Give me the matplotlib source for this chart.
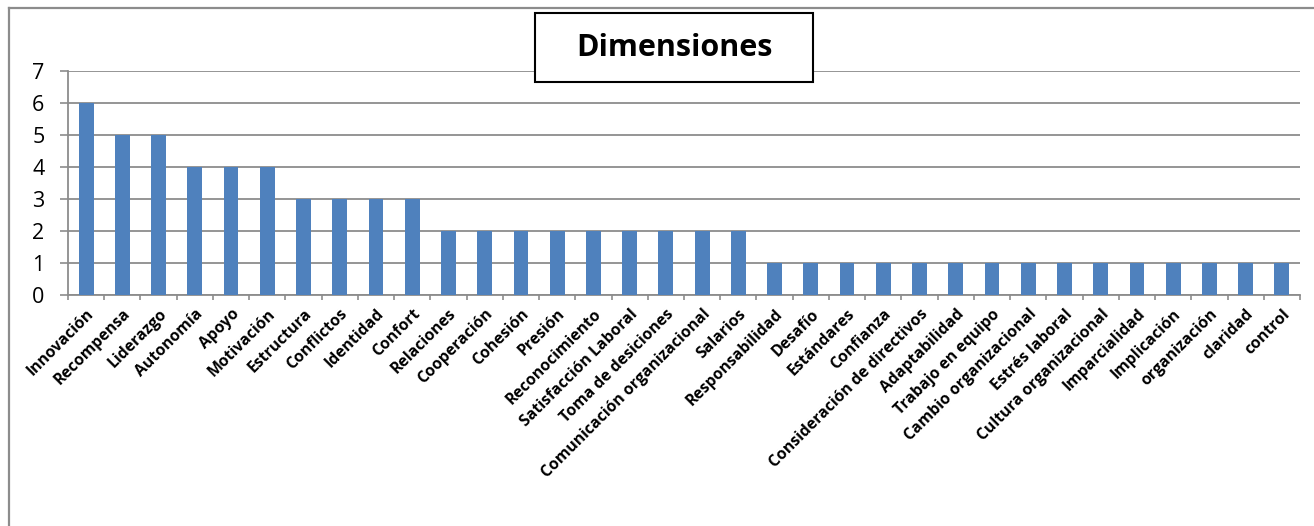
import matplotlib
matplotlib.use("Agg")
import matplotlib.pyplot as plt
from matplotlib.patches import Rectangle
import numpy as np

# Datos del gráfico "Dimensiones"
categorias = [
    "Innovación", "Recompensa", "Liderazgo", "Autonomía", "Apoyo", "Motivación",
    "Estructura", "Conflictos", "Identidad", "Confort", "Relaciones", "Cooperación",
    "Cohesión", "Presión", "Reconocimiento", "Satisfacción Laboral",
    "Toma de desiciones", "Comunicación organizacional", "Salarios",
    "Responsabilidad", "Desafío", "Estándares", "Confianza",
    "Consideración de directivos", "Adaptabilidad", "Trabajo en equipo",
    "Cambio organizacional", "Estrés laboral", "Cultura organizacional",
    "Imparcialidad", "Implicación", "organización", "claridad", "control",
]
valores = [6, 5, 5, 4, 4, 4, 3, 3, 3, 3, 2, 2, 2, 2, 2, 2, 2, 2, 2,
           1, 1, 1, 1, 1, 1, 1, 1, 1, 1, 1, 1, 1, 1, 1]
y_ticks = [0, 1, 2, 3, 4, 5, 6, 7]
titulo = "Dimensiones"

BAR_COLOR = "#4F81BD"
GRID_COLOR = "#8C8C8C"

plt.rcParams["font.family"] = ["Open Sans", "DejaVu Sans"]

W, H = 1314, 526
fig = plt.figure(figsize=(W / 100, H / 100), dpi=100)

# marco exterior del gráfico (solo lados izquierdo y superior visibles)
fig.add_artist(plt.Line2D([8.5 / W, 8.5 / W], [0, 1 - 8 / H], color="#8C8C8C", lw=1.6))
fig.add_artist(plt.Line2D([8.5 / W, 1], [1 - 8 / H, 1 - 8 / H], color="#8C8C8C", lw=1.6))

x0, x1 = 68, 1300
y_top, y_bot = 71, 295
ax = fig.add_axes([x0 / W, 1 - y_bot / H, (x1 - x0) / W, (y_bot - y_top) / H])

x = np.arange(len(categorias))
ax.bar(x, valores, width=0.41, color=BAR_COLOR, zorder=3)

ax.set_xlim(-0.5, len(categorias) - 0.5)
ax.set_ylim(0, 7)

ax.set_yticks(y_ticks)
ax.set_yticklabels([str(v) for v in y_ticks], fontsize=15.5)
ax.yaxis.grid(True, color=GRID_COLOR, lw=1.3, zorder=0)
ax.tick_params(axis="y", length=6, width=1.2, color=GRID_COLOR, pad=11)

ax.set_xticks(x)
ax.set_xticklabels(categorias, rotation=45, ha="right", rotation_mode="anchor",
                   fontsize=11.3, fontweight="bold")
ax.tick_params(axis="x", which="major", length=0, pad=8)
ax.set_xticks(np.arange(-0.5, len(categorias)), minor=True)
ax.tick_params(axis="x", which="minor", length=3.8, width=1.2, color=GRID_COLOR)

for side in ["top", "right"]:
    ax.spines[side].set_visible(False)
for side in ["left", "bottom"]:
    ax.spines[side].set_color(GRID_COLOR)
    ax.spines[side].set_linewidth(1.3)

# título en recuadro
bx0, bx1, by0, by1 = 535, 813, 13, 82
fig.add_artist(Rectangle((bx0 / W, 1 - by1 / H), (bx1 - bx0) / W, (by1 - by0) / H,
                         transform=fig.transFigure, fc="white", ec="black", lw=1.5,
                         zorder=9))
fig.text((bx0 + bx1) / 2 / W, 1 - (by0 + by1) / 2 / H, titulo, ha="center",
         va="center", fontsize=22, fontweight="bold", zorder=10)

fig.savefig("out.png", dpi=100)
